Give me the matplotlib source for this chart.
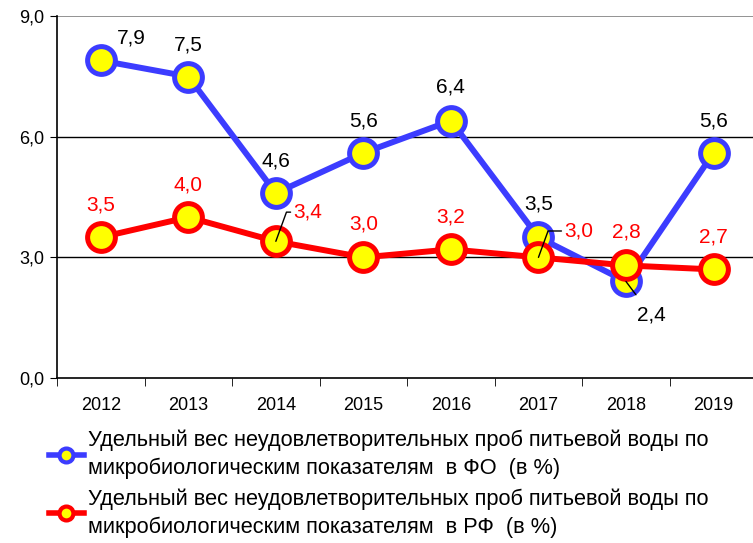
import matplotlib
matplotlib.use("Agg")
import matplotlib.pyplot as plt
import numpy as np
from matplotlib.lines import Line2D

plt.rcParams['font.family'] = ['Liberation Sans', 'DejaVu Sans']

# data
years = ["2012", "2013", "2014", "2015", "2016", "2017", "2018", "2019"]
fo_vals = [7.9, 7.5, 4.6, 5.6, 6.4, 3.5, 2.4, 5.6]
rf_vals = [3.5, 4.0, 3.4, 3.0, 3.2, 3.0, 2.8, 2.7]
fo_name = "Удельный вес неудовлетворительных проб питьевой воды по\nмикробиологическим показателям  в ФО  (в %)"
rf_name = "Удельный вес неудовлетворительных проб питьевой воды по\nмикробиологическим показателям  в РФ  (в %)"

blue = '#3c3cff'
red = '#ff0000'
yellow = '#ffff00'

x = np.arange(len(years))

fig = plt.figure(figsize=(7.53, 5.43), dpi=100)
ax = fig.add_axes([0.0757, 0.304, 0.93, 0.666])

ax.plot(x, fo_vals, color=blue, lw=4.3, marker='o', ms=20, mfc=yellow, mec=blue, mew=3.6, zorder=3, clip_on=False)
ax.plot(x, rf_vals, color=red, lw=4.3, marker='o', ms=20, mfc=yellow, mec=red, mew=3.6, zorder=4, clip_on=False)

# label offsets in points (dx, dy), leader flag
fo_off = [(22, 16), (0, 23), (0, 23), (0, 23), (0, 24), (0, 24), (18, -24), (0, 23)]
rf_off = [(0, 23), (0, 23), (23, 21), (0, 24), (0, 23), (29, 19), (0, 24), (0, 23)]
fo_lead = [False, False, False, False, False, False, True, False]
rf_lead = [False, False, True, False, False, True, False, False]

for i, v in enumerate(fo_vals):
    dx, dy = fo_off[i]
    kw = {}
    if fo_lead[i]:
        kw['arrowprops'] = dict(arrowstyle='-', color='black', lw=1, shrinkA=7, shrinkB=0)
    ax.annotate(f"{v:.1f}".replace('.', ','), (x[i], v), xytext=(dx, dy), textcoords='offset points',
                ha='center', va='center', fontsize=15, color='black', zorder=6, **kw)

for i, v in enumerate(rf_vals):
    dx, dy = rf_off[i]
    kw = {}
    if rf_lead[i]:
        kw['arrowprops'] = dict(arrowstyle='-', color='black', lw=1, shrinkA=0, shrinkB=0,
                                connectionstyle='angle,angleA=0,angleB=70,rad=0', relpos=(0, 0.5))
    ax.annotate(f"{v:.1f}".replace('.', ','), (x[i], v), xytext=(dx, dy), textcoords='offset points',
                ha='center', va='center', fontsize=15, color=red, zorder=6, **kw)

ax.set_xlim(-0.5, len(years) - 0.5)
ax.set_ylim(0, 9)
ax.set_yticks([0, 3, 6, 9])
ax.set_yticklabels(["0,0", "3,0", "6,0", "9,0"], fontsize=13)
ax.set_xticks(x)
ax.set_xticklabels(years, fontsize=13)
ax.set_xticks(np.arange(-0.5, len(years)), minor=True)
ax.tick_params(axis='x', which='major', length=0, pad=14)
ax.tick_params(axis='x', which='minor', length=6, direction='out')
ax.tick_params(axis='y', length=5, direction='out', pad=4)

for yv in [3, 6]:
    ax.axhline(yv, color='black', lw=1, zorder=1)
ax.axhline(9, color='#808080', lw=1.2, zorder=1)
ax.spines['top'].set_visible(False)
ax.spines['right'].set_visible(False)
ax.spines['left'].set_linewidth(1.2)
ax.spines['bottom'].set_linewidth(1.2)

handles = [
    Line2D([], [], color=blue, lw=4, marker='o', ms=10, mfc=yellow, mec=blue, mew=3),
    Line2D([], [], color=red, lw=4, marker='o', ms=10, mfc=yellow, mec=red, mew=3),
]
leg = fig.legend(handles, [fo_name, rf_name], loc='upper left', bbox_to_anchor=(0.053, 0.225),
                 frameon=False, fontsize=15.7, handlelength=1.6, handletextpad=0.2, labelspacing=0.4,
                 borderaxespad=0)
for t in leg.get_texts():
    t.set_linespacing(1.43)

fig.savefig('out.png', dpi=100)
